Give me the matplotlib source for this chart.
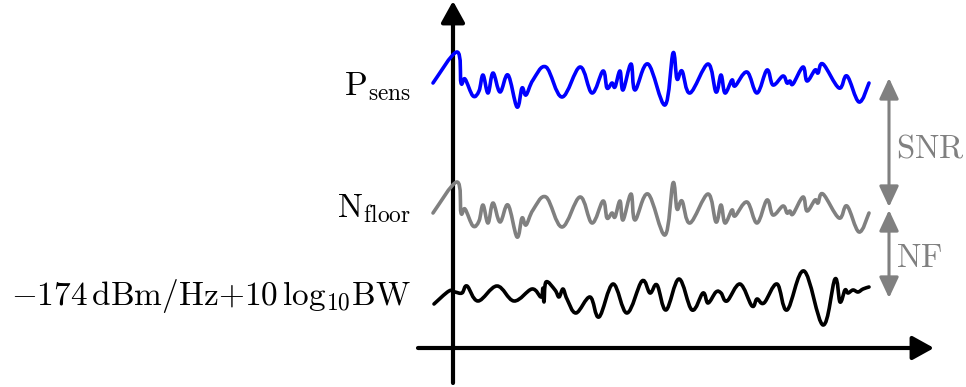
import matplotlib
matplotlib.use("Agg")
import matplotlib.pyplot as plt
from matplotlib.path import Path
from matplotlib.patches import PathPatch
import numpy as np

plt.rcParams['mathtext.fontset'] = 'cm'
plt.rcParams['font.family'] = ['DejaVu Serif']

# signal curve (P_sens), coordinates relative to the axis origin
sig_x = [-20, 4, 8, 12, 20, 26, 30, 35, 40, 47, 55, 64, 69, 73, 80, 93, 109, 127, 139, 150,
         154, 159, 162, 167, 170, 178, 182, 195, 212, 220, 224, 229, 237, 255, 263, 268, 272, 279, 282, 294,
         304, 314, 320, 330, 334, 337, 340, 350, 354, 362, 365, 370, 386, 394, 406, 416]
sig_y = [265, 296, 265, 269, 252, 257, 273, 255, 275, 256, 273, 241, 260, 253, 268, 281, 251, 281, 255, 277,
         260, 265, 261, 277, 258, 284, 258, 284, 243, 295, 269, 277, 255, 284, 256, 273, 255, 268, 262, 276,
         255, 278, 263, 272, 265, 267, 264, 281, 267, 278, 275, 284, 260, 272, 246, 265]

# noise floor is the same trace shifted down by the SNR gap
snr_gap = 130

# thermal noise trace
th_x = [-19, -4, 2, 9, 14, 25, 44, 61, 79, 88, 90, 91, 93, 102, 106, 110, 114, 123, 137, 146,
        160, 174, 189, 197, 204, 213, 226, 239, 250, 255, 263, 268, 274, 287, 299, 304, 311, 324, 334, 351,
        370, 382, 387, 392, 395, 400, 405, 410, 416]
th_y = [44, 57, 56, 55, 62, 47, 62, 47, 59, 51, 60, 46, 66, 58, 51, 59, 49, 35, 51, 31,
        64, 35, 67, 55, 63, 38, 69, 38, 55, 45, 56, 55, 47, 64, 42, 49, 45, 64, 38, 77,
        23, 69, 46, 58, 55, 58, 56, 59, 61]

labels = [r'$\mathrm{P}_{\mathrm{sens}}$', r'$\mathrm{N}_{\mathrm{floor}}$',
          r'$-174\,\mathrm{dBm/Hz}{+}10\,\log_{10}\!\mathrm{BW}$']
label_y = [253, 131, 43]

gray = '#808080'


def smooth_path(x, y, tension=0.18):
    # cubic bezier through the points, like tikz "smooth"
    p = np.column_stack([x, y]).astype(float)
    verts = [p[0]]
    codes = [Path.MOVETO]
    n = len(p)
    for i in range(n - 1):
        p0 = p[max(i - 1, 0)]
        p3 = p[min(i + 2, n - 1)]
        c1 = p[i] + (p[i + 1] - p0) * tension
        c2 = p[i + 1] - (p3 - p[i]) * tension
        verts += [c1, c2, p[i + 1]]
        codes += [Path.CURVE4] * 3
    return Path(verts, codes)


fig = plt.figure(figsize=(9.66, 3.87), dpi=100)
ax = fig.add_axes([0, 0, 1, 1])
ax.set_xlim(-453, 513)
ax.set_ylim(-39, 348)
ax.axis('off')

sig = np.array(sig_y)
for xs, ys, c in [(sig_x, sig, '#0000ff'), (sig_x, sig - snr_gap, gray), (th_x, th_y, 'black')]:
    ax.add_patch(PathPatch(smooth_path(xs, ys), fill=False, edgecolor=c, lw=2.6,
                           joinstyle='round', capstyle='round', zorder=3))

# axes with arrow heads
axis_style = '-|>,head_length=0.65,head_width=0.36'
ax.annotate('', xy=(0, 347), xytext=(0, -35),
            arrowprops=dict(arrowstyle=axis_style, lw=3, color='black',
                            mutation_scale=20, shrinkA=0, shrinkB=0), zorder=2)
ax.annotate('', xy=(481, 0), xytext=(-35, 0),
            arrowprops=dict(arrowstyle=axis_style, lw=3, color='black',
                            mutation_scale=20, shrinkA=0, shrinkB=0), zorder=2)

# SNR and NF brackets
dbl = '<|-|>,head_length=0.9,head_width=0.42'
ax.annotate('', xy=(436, 270), xytext=(436, 141),
            arrowprops=dict(arrowstyle=dbl, lw=2.2, color=gray,
                            mutation_scale=14, shrinkA=0, shrinkB=0))
ax.annotate('', xy=(436, 138), xytext=(436, 50),
            arrowprops=dict(arrowstyle=dbl, lw=2.2, color=gray,
                            mutation_scale=14, shrinkA=0, shrinkB=0))
ax.text(443, 191, r'$\mathrm{SNR}$', color=gray, fontsize=23.5, ha='left', va='baseline')
ax.text(443, 81, r'$\mathrm{NF}$', color=gray, fontsize=23.5, ha='left', va='baseline')

for lab, y in zip(labels, label_y):
    ax.text(-42, y, lab, fontsize=24, ha='right', va='baseline')

fig.savefig('out.png', dpi=100)
